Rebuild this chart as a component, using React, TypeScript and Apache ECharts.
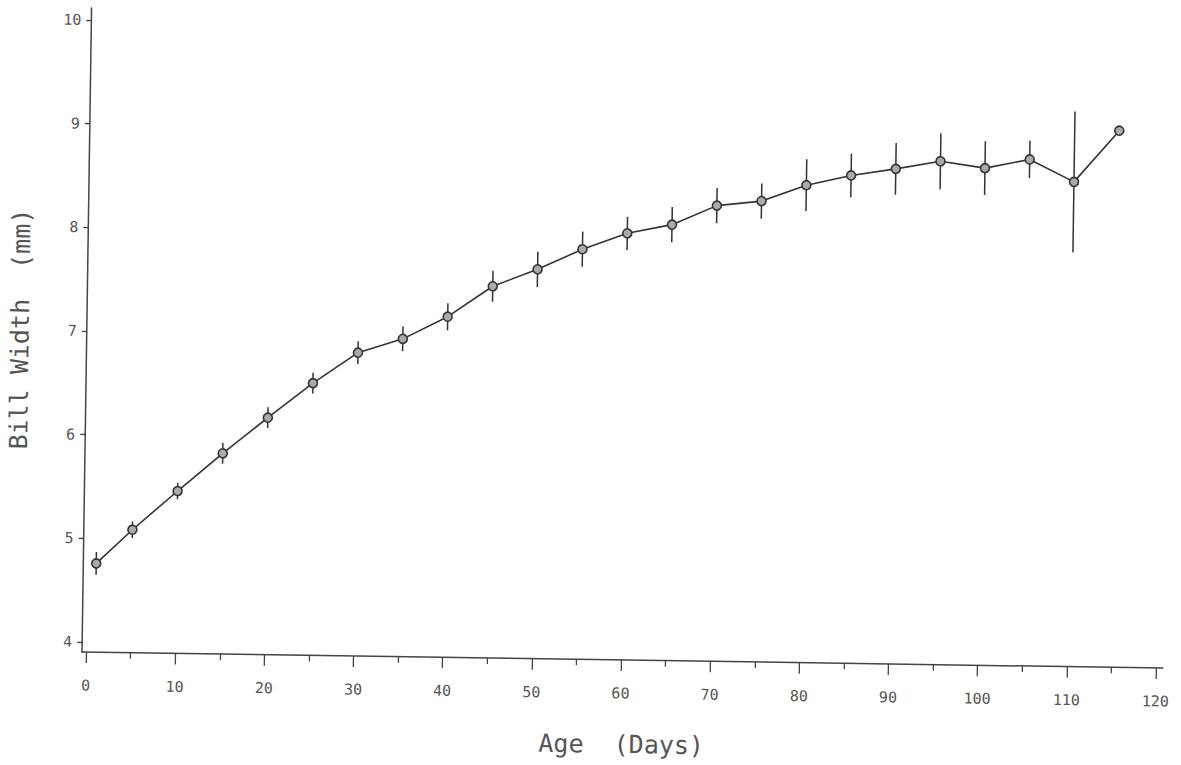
import React, { useEffect, useRef } from "react";
import * as echarts from "echarts";

// Age (days) of each measurement
const days = [1, 5, 10, 15, 20, 25, 30, 35, 40, 45, 50, 55, 60, 65, 70, 75, 80, 85, 90, 95, 100, 105, 110, 115];
// Mean bill width (mm)
const billWidth = [4.76, 5.09, 5.47, 5.84, 6.19, 6.53, 6.83, 6.97, 7.19, 7.49, 7.66, 7.86, 8.02, 8.11, 8.3, 8.35, 8.51, 8.61, 8.68, 8.76, 8.7, 8.79, 8.58, 9.08];
// Half-length of the error bar (mm)
const errorHalf = [0.11, 0.08, 0.08, 0.1, 0.1, 0.1, 0.11, 0.12, 0.13, 0.15, 0.17, 0.17, 0.16, 0.17, 0.17, 0.17, 0.25, 0.21, 0.25, 0.27, 0.26, 0.18, 0.68, 0];

const xMajorTicks = [0, 10, 20, 30, 40, 50, 60, 70, 80, 90, 100, 110, 120];
const xMinorTicks = [5, 15, 25, 35, 45, 55, 65, 75, 85, 95, 105, 115];
const yTicks = [4, 5, 6, 7, 8, 9, 10];

const FONT = "DejaVu Sans Mono";

export default function App() {
  const ref = useRef<HTMLDivElement>(null);

  useEffect(() => {
    document.body.style.margin = "0";
    const chart = echarts.init(ref.current!, null, { renderer: "svg" });
    const points = days.map((d, i) => [d, billWidth[i]]);
    const bars = days.map((d, i) => [d, billWidth[i] - errorHalf[i], billWidth[i] + errorHalf[i]]);

    chart.setOption({
      animation: false,
      backgroundColor: "#ffffff",
      grid: { left: 82, right: 18, top: 8, bottom: 113, containLabel: false, outerBoundsMode: "none" },
      xAxis: [
        {
          type: "value",
          min: -0.45,
          max: 120.78,
          position: "bottom",
          name: "Age  (Days)",
          nameLocation: "middle",
          nameGap: 72,
          nameTextStyle: { fontFamily: FONT, fontSize: 25, color: "#555" },
          axisLine: { show: true, onZero: false, lineStyle: { color: "#444", width: 1.5 } },
          axisTick: { show: true, customValues: xMajorTicks, length: 11, lineStyle: { color: "#444", width: 1.3 } },
          axisLabel: { show: true, customValues: xMajorTicks, margin: 26, fontFamily: FONT, fontSize: 15, color: "#555" },
          splitLine: { show: false },
        },
        {
          type: "value",
          min: -0.45,
          max: 120.78,
          position: "bottom",
          offset: 0,
          axisLine: { show: false },
          axisTick: { show: true, customValues: xMinorTicks, length: 6, lineStyle: { color: "#444", width: 1.3 } },
          axisLabel: { show: false },
          splitLine: { show: false },
        },
      ],
      yAxis: {
        type: "value",
        min: 3.9035,
        max: 10.116,
        name: "Bill Width  (mm)",
        nameLocation: "middle",
        nameGap: 54,
        nameTextStyle: { fontFamily: FONT, fontSize: 25, color: "#555" },
        axisLine: { show: true, onZero: false, lineStyle: { color: "#444", width: 1.5 } },
        axisTick: { show: true, customValues: yTicks, length: 5, lineStyle: { color: "#444", width: 1.3 } },
        axisLabel: { show: true, customValues: yTicks, margin: 10, fontFamily: FONT, fontSize: 15, color: "#555" },
        splitLine: { show: false },
      },
      series: [
        {
          type: "custom",
          xAxisIndex: 0,
          data: bars,
          renderItem: (params: any, api: any) => {
            const x = api.value(0);
            const lo = api.coord([x, api.value(1)]);
            const hi = api.coord([x, api.value(2)]);
            return {
              type: "line",
              shape: { x1: lo[0], y1: lo[1], x2: hi[0], y2: hi[1] },
              style: { stroke: "#333", lineWidth: 1.5 },
            };
          },
          z: 1,
        },
        {
          type: "line",
          xAxisIndex: 0,
          data: points,
          symbol: "circle",
          symbolSize: 9,
          lineStyle: { color: "#333", width: 1.6 },
          itemStyle: { color: "#aaa", borderColor: "#333", borderWidth: 1.6 },
          z: 2,
        },
      ],
    });
    return () => chart.dispose();
  }, []);

  return (
    <div
      ref={ref}
      style={{
        width: 1181,
        height: 765,
        transform: "rotate(0.85deg)",
        transformOrigin: "82px 652px",
      }}
    />
  );
}
